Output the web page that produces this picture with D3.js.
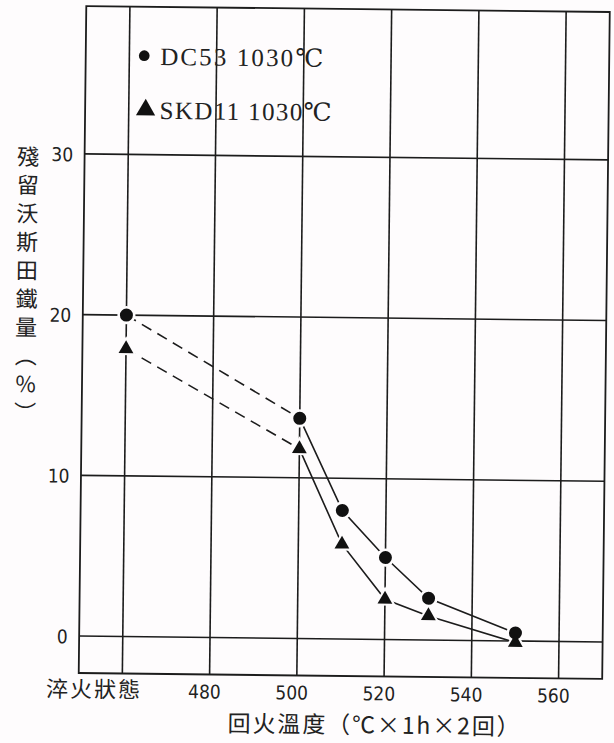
<!DOCTYPE html>
<html>
<head>
<meta charset="utf-8">
<script src="https://cdn.jsdelivr.net/npm/d3@7/dist/d3.min.js"></script>
<style>
  body { margin: 0; background: #fefcfd; }
  svg { display: block; }
  .tick { font-family: "Liberation Sans Narrow", "DejaVu Sans Condensed", Roboto, sans-serif; font-size: 19px; fill: #222; }
  .cjk { font-family: "Noto Sans CJK TC", "Noto Sans CJK SC", sans-serif; fill: #222; }
  .leg { font-family: "Liberation Serif", "DejaVu Serif", serif; font-size: 25px; fill: #222; }
</style>
</head>
<body>
<div id="chart"></div>
<script>
// temper temperatures, 460 stands for the as-quenched column
const temps = [460, 500, 510, 520, 530, 550]
const dc53 = [20.0, 13.7, 8.0, 5.1, 2.6, 0.5]
const skd11 = [17.9, 11.8, 5.9, 2.5, 1.5, -0.1]

const xTicks = [460, 480, 500, 520, 540, 560]
const xTickLabels = ["淬火狀態", "480", "500", "520", "540", "560"]
const yTicks = [0, 10, 20, 30]

const yTitle = "殘留沃斯田鐵量（％）"
const xTitle = "回火溫度（℃×1h×2回）"
const legendLabels = ["DC53  1030℃", "SKD11 1030℃"]

const W = 614, H = 743
let svg = d3.select("#chart").append("svg")
    .attr("width", W)
    .attr("height", H)

// the scan is a little tilted
let g = svg.append("g").attr("transform", "rotate(0.65 344 342)")

let x = d3.scaleLinear().domain([450, 570]).range([82.5, 606])
let y = d3.scaleLinear().domain([-2.3, 39.2]).range([676, 9])

let ink = "#1c1c1c"

// grid
g.selectAll(".vgrid").data(xTicks).enter().append("line")
    .attr("x1", d => x(d)).attr("x2", d => x(d))
    .attr("y1", y.range()[0]).attr("y2", y.range()[1])
    .attr("stroke", ink).attr("stroke-width", 1.6)
g.selectAll(".hgrid").data(yTicks).enter().append("line")
    .attr("x1", x.range()[0]).attr("x2", x.range()[1])
    .attr("y1", d => y(d)).attr("y2", d => y(d))
    .attr("stroke", ink).attr("stroke-width", 1.6)
g.append("rect")
    .attr("x", x.range()[0]).attr("y", y.range()[1])
    .attr("width", x.range()[1] - x.range()[0])
    .attr("height", y.range()[0] - y.range()[1])
    .attr("fill", "none").attr("stroke", ink).attr("stroke-width", 1.8)

// tick labels
g.selectAll(".ylab").data(yTicks).enter().append("text")
    .attr("class", "tick")
    .attr("x", 71).attr("y", d => y(d) + 2)
    .attr("text-anchor", "end").attr("dominant-baseline", "middle")
    .text(d => d)
g.selectAll(".xlab").data(xTicks).enter().append("text")
    .attr("class", (d, i) => i == 0 ? "cjk" : "tick")
    .attr("x", (d, i) => i == 0 ? x(d) - 28 : x(d) - 5)
    .attr("y", 700)
    .attr("text-anchor", "middle")
    .style("font-size", (d, i) => i == 0 ? "22px" : null)
    .style("letter-spacing", (d, i) => i == 0 ? "2px" : null)
    .text((d, i) => xTickLabels[i])

// axis titles
g.append("text")
    .attr("class", "cjk")
    .attr("x", 26).attr("y", 149)
    .attr("textLength", 278).attr("lengthAdjust", "spacing")
    .style("writing-mode", "vertical-rl")
    .style("font-size", "22px")
    .text(yTitle)
g.append("text")
    .attr("class", "cjk")
    .attr("x", 232).attr("y", 733)
    .attr("textLength", 292).attr("lengthAdjust", "spacing")
    .style("font-size", "23px")
    .text(xTitle)

// data lines: dashed from as-quenched to 500, solid after
let line = d3.line().x(d => x(d[0])).y(d => y(d[1]))
let series = [dc53, skd11]
series.forEach(vals => {
    let pts = temps.map((t, i) => [t, vals[i]])
    g.append("path").attr("d", line(pts.slice(0, 2)))
        .attr("fill", "none").attr("stroke", ink).attr("stroke-width", 1.6)
        .attr("stroke-dasharray", "11,7")
    g.append("path").attr("d", line(pts.slice(1)))
        .attr("fill", "none").attr("stroke", ink).attr("stroke-width", 1.6)
})

// markers with a small white halo
let shapes = [d3.symbolCircle, d3.symbolTriangle]
let sizes = [133, 95]
let halos = [260, 210]
series.forEach((vals, s) => {
    let pts = temps.map((t, i) => [t, vals[i]])
    g.selectAll(".halo" + s).data(pts).enter().append("path")
        .attr("transform", d => "translate(" + x(d[0]) + "," + y(d[1]) + ")")
        .attr("d", d3.symbol().type(shapes[s]).size(halos[s]))
        .attr("fill", "#fefcfd")
})
series.forEach((vals, s) => {
    let pts = temps.map((t, i) => [t, vals[i]])
    g.selectAll(".mark" + s).data(pts).enter().append("path")
        .attr("transform", d => "translate(" + x(d[0]) + "," + y(d[1]) + ")")
        .attr("d", d3.symbol().type(shapes[s]).size(sizes[s]))
        .attr("fill", "#111")
})

// legend
let legY = [58, 112]
let legW = [163, 172]
legendLabels.forEach((lab, i) => {
    g.append("path")
        .attr("transform", "translate(" + (i == 0 ? 141 : 143) + "," + legY[i] + ")")
        .attr("d", d3.symbol().type(shapes[i]).size(i == 0 ? 90 : 160))
        .attr("fill", "#111")
    g.append("text")
        .attr("class", "leg")
        .attr("x", 157).attr("y", legY[i] + 9)
        .attr("textLength", legW[i]).attr("lengthAdjust", "spacing")
        .text(lab)
})
</script>
</body>
</html>
